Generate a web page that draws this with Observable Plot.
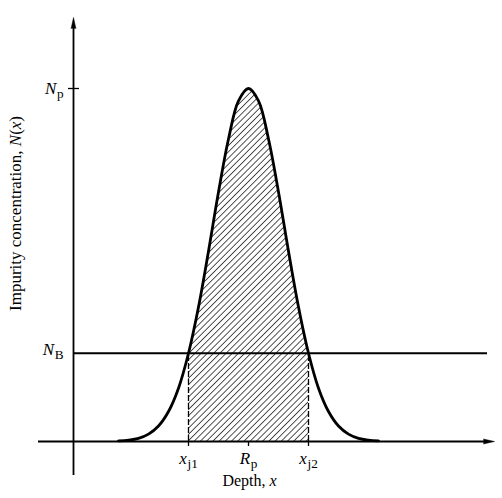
<!DOCTYPE html>
<html>
<head>
<meta charset="utf-8">
<script src="https://cdn.jsdelivr.net/npm/d3@7"></script>
<script src="https://cdn.jsdelivr.net/npm/@observablehq/plot@0.6"></script>
<style>
  html, body { margin: 0; padding: 0; background: #fff; }
  #chart svg { display: block; }
</style>
</head>
<body>
<div id="chart"></div>
<script>
// Implanted impurity profile N(x) versus depth x (arbitrary units, N relative to Np)
const depth = [0.9, 1.1, 1.3, 1.5, 1.7, 1.9, 2.1, 2.3, 2.5, 2.7, 2.9, 3.1, 3.3, 3.5,
               3.7, 3.9, 4.1, 4.3, 4.5, 4.7, 4.9, 5.1, 5.3, 5.5, 5.7, 5.9, 6.1];
const concentration = [0.002, 0.004, 0.009, 0.021, 0.044, 0.085, 0.151, 0.25, 0.381, 0.539, 0.707, 0.857, 0.965, 1.0,
                       0.965, 0.857, 0.707, 0.539, 0.381, 0.25, 0.151, 0.085, 0.044, 0.021, 0.009, 0.004, 0.002];

// Characteristic levels and depths
const Np = 1.0;      // peak concentration
const NB = 0.25;     // background concentration
const Rp = 3.5;      // projected range
const xj1 = 2.3;     // first junction depth
const xj2 = 4.7;     // second junction depth

// Tick values and their labels (markup: *italic*, _subscript)
const xTicks = [xj1, Rp, xj2];
const xTickLabels = ["*x*_j1", "*R*_p", "*x*_j2"];
const yTickLabels = {peak: "*N*_p", background: "*N*_B"};
const xTitle = "Depth, *x*";
const yTitle = "Impurity concentration, *N*(*x*)";

const profile = depth.map((d, i) => ({depth: d, conc: concentration[i]}));
const junctionRegion = profile.filter(p => p.depth >= xj1 && p.depth <= xj2);

const chart = Plot.plot({
  width: 502,
  height: 498,
  marginLeft: 73,
  marginBottom: 57,
  marginTop: 20,
  marginRight: 10,
  style: {fontFamily: "'Liberation Serif', 'Times New Roman', serif", fontSize: "17px", background: "#fff", overflow: "visible"},
  x: {domain: [0, 8.5], range: [73, 498]},
  y: {domain: [0, 1], range: [441, 88]},
  marks: [
    // hatched region between the junctions
    Plot.areaY(junctionRegion, {x: "depth", y: "conc", curve: "catmull-rom", fill: "url(#hatch)"}),
    // dashed junction markers
    Plot.ruleX([xj1, xj2], {y1: 0, y2: NB, stroke: "black", strokeWidth: 1.3, strokeDasharray: "6,2"}),
    // background level
    Plot.ruleY([NB], {x1: 0, x2: 8.28, stroke: "black", strokeWidth: 2}),
    // coordinate axes
    Plot.ruleX([0], {y1: -0.096, y2: 1.17, stroke: "black", strokeWidth: 1.8}),
    Plot.ruleY([0], {x1: -0.7, x2: 8.25, stroke: "black", strokeWidth: 1.8}),
    Plot.vector([{x: 0, y: 1.201}], {x: "x", y: "y", length: 11, r: 2.4, shape: "spike", anchor: "end", rotate: 0, fill: "black", stroke: "black", strokeWidth: 0.5}),
    Plot.vector([{x: 8.42, y: 0}], {x: "x", y: "y", length: 11, r: 2.4, shape: "spike", anchor: "end", rotate: 90, fill: "black", stroke: "black", strokeWidth: 0.5}),
    // peak tick across the vertical axis
    Plot.ruleY([Np], {x1: -0.1, x2: 0.12, stroke: "black", strokeWidth: 1.3}),
    // the profile
    Plot.line(profile, {x: "depth", y: "conc", curve: "catmull-rom", stroke: "black", strokeWidth: 2.8}),
    // axis tick labels
    Plot.axisX({ticks: xTicks, tickFormat: d => xTickLabels[xTicks.indexOf(d)], tickSize: 5, tickPadding: 5, fontSize: 17, strokeWidth: 1.3, label: null}),
    Plot.axisY({ticks: [Np], tickFormat: () => yTickLabels.peak, tickSize: 0, tickPadding: 10, fontSize: 17, label: null}),
    Plot.axisY({ticks: [NB], tickFormat: () => yTickLabels.background, tickSize: 0, tickPadding: 10, fontSize: 17, dy: -4, label: null}),
    // axis titles
    Plot.text([xTitle], {x: 3.52, y: -0.112, text: d => d, fontSize: 16, textAnchor: "middle"}),
    Plot.text([yTitle], {x: -1.15, y: 0.646, text: d => d, fontSize: 17, textAnchor: "middle", rotate: -90})
  ]
});

// Diagonal hatch pattern used by the junction region
const svg = d3.select(chart);
const defs = svg.insert("defs", ":first-child");
defs.append("pattern")
    .attr("id", "hatch")
    .attr("patternUnits", "userSpaceOnUse")
    .attr("width", 4.4)
    .attr("height", 4.4)
    .attr("patternTransform", "rotate(45)")
  .append("line")
    .attr("x1", 0).attr("y1", 0)
    .attr("x2", 0).attr("y2", 4.4)
    .attr("stroke", "black")
    .attr("stroke-width", 1.35);

// Turn *italic* and _subscript markup into tspans
svg.selectAll("text").each(function() {
  const s = this.textContent;
  if (!/[_*]/.test(s)) return;
  const [main, sub] = s.split("_");
  const el = d3.select(this);
  el.text(null);
  main.split(/(\*[^*]+\*)/).filter(Boolean).forEach(part => {
    const italic = part.startsWith("*");
    el.append("tspan")
      .attr("font-style", italic ? "italic" : null)
      .text(italic ? part.slice(1, -1) : part);
  });
  if (sub) {
    el.append("tspan")
      .attr("font-size", "0.78em")
      .attr("dx", "0.05em")
      .attr("dy", "0.3em")
      .text(sub);
  }
});

document.getElementById("chart").append(chart);
</script>
</body>
</html>
